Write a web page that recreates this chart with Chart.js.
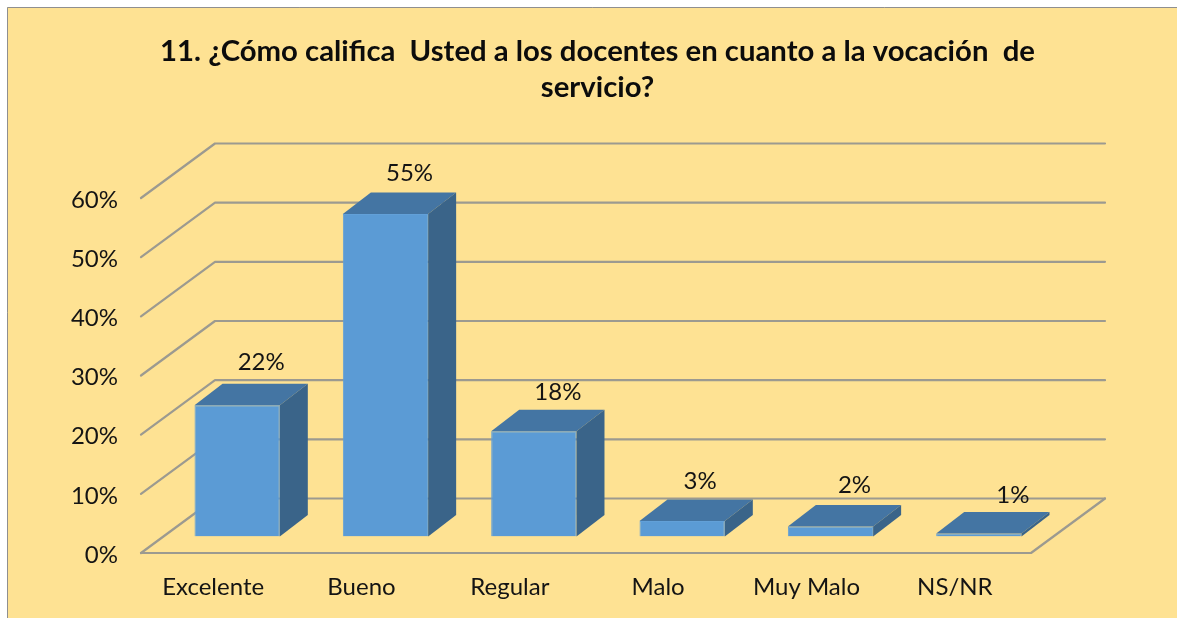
<!DOCTYPE html>
<html><head><meta charset="utf-8">
<style>html,body{margin:0;padding:0;background:#fff}#w{width:1177px;height:618px}canvas{display:block}</style>
<script src="https://cdn.jsdelivr.net/npm/chart.js@4/dist/chart.umd.min.js"></script>
</head><body><div id="w"><canvas id="c" width="1177" height="618"></canvas></div>
<script>
const titleLines = ["11. ¿Cómo califica  Usted a los docentes en cuanto a la vocación  de", "servicio?"];
const categories = ["Excelente", "Bueno", "Regular", "Malo", "Muy Malo", "NS/NR"];
const seriesValues = [22.2, 54.5, 17.8, 2.6, 1.7, 0.5];
const dataLabels = ["22%", "55%", "18%", "3%", "2%", "1%"];

const WALL = {dx: 74, dy: -54.5}, BAR_OFF = {dx: 22, dy: -16.5}, BAR_DEPTH = {dx: 28, dy: -21.5};
const GRID = "#9c9a90", FRONT = "#5b9bd5", TOP = "#4475a3", SIDE = "#3a6489", BG = "#fee293", INK = "#141414";

function poly(ctx, pts, fill, stroke, lw) {
  ctx.beginPath(); pts.forEach((p, i) => i ? ctx.lineTo(p[0], p[1]) : ctx.moveTo(p[0], p[1])); 
  if (fill) { ctx.fillStyle = fill; ctx.closePath(); ctx.fill(); }
  if (stroke) { ctx.strokeStyle = stroke; ctx.lineWidth = lw; ctx.stroke(); }
}
const scene = {
  id: "scene",
  beforeDraw(chart) {
    const ctx = chart.ctx;
    ctx.save();
    ctx.fillStyle = "#fff"; ctx.fillRect(0, 0, chart.width, chart.height);
    ctx.fillStyle = BG; ctx.fillRect(7, 7, chart.width - 7, chart.height - 7);
    ctx.strokeStyle = "#8f8f8f"; ctx.lineWidth = 1;
    ctx.beginPath(); ctx.moveTo(7.5, chart.height); ctx.lineTo(7.5, 7.5); ctx.lineTo(chart.width, 7.5); ctx.stroke();
    ctx.restore();
  },
  beforeDatasetsDraw(chart) {
    const ctx = chart.ctx, y = chart.scales.y, a = chart.chartArea;
    ctx.save(); ctx.lineCap = "round"; ctx.lineJoin = "round";
    y.ticks.forEach((t) => {
      const py = y.getPixelForValue(t.value);
      poly(ctx, [[a.left, py], [a.left + WALL.dx, py + WALL.dy], [a.right + WALL.dx, py + WALL.dy]], null, GRID, 2.2);
    });
    const b = y.getPixelForValue(0);
    poly(ctx, [[a.left, b], [a.right, b], [a.right + WALL.dx, b + WALL.dy]], null, GRID, 2.2);
    ctx.restore();
  },
  beforeDatasetDraw(chart) {
    chart.ctx.save(); chart.ctx.translate(BAR_OFF.dx, BAR_OFF.dy);
  },
  afterDatasetDraw(chart, args, opts) {
    const ctx = chart.ctx, D = BAR_DEPTH;
    chart.getDatasetMeta(args.index).data.forEach((bar, i) => {
      const l = bar.x - bar.width / 2, r = bar.x + bar.width / 2, t = bar.y, b = bar.base;
      poly(ctx, [[l, t], [r, t], [r + D.dx, t + D.dy], [l + D.dx, t + D.dy]], TOP);
      poly(ctx, [[r, t], [r + D.dx, t + D.dy], [r + D.dx, b + D.dy], [r, b]], SIDE);
      ctx.fillStyle = INK; ctx.font = "24px Lato"; ctx.textAlign = "center"; ctx.textBaseline = "middle";
      const n = opts.labelNudge[i];
      ctx.fillText(dataLabels[i], bar.x + 24 + n[0], t - 41 + n[1]);
    });
    ctx.restore();
  }
};
new Chart(document.getElementById("c"), {
  type: "bar",
  data: { labels: categories, datasets: [{ data: seriesValues, backgroundColor: FRONT, borderColor: "#62a0d8", borderWidth: 1, barPercentage: 0.575, categoryPercentage: 1 }] },
  options: {
    responsive: false, animation: false,
    layout: { padding: { left: 18, right: 0, top: 0, bottom: 0 } },
    plugins: {
      legend: { display: false }, tooltip: { enabled: false },
      scene: { labelNudge: [[0, -2], [0, 0], [0, 2], [-6, 1], [0, 0], [10, 3]] },
      title: { display: true, text: titleLines, color: "#0c0c0c", font: { family: "Lato", weight: "bold", size: 29.3, lineHeight: 36 / 29.3 }, padding: { top: 34, bottom: 92 } }
    },
    scales: {
      x: {
        grid: { display: false, drawTicks: false }, border: { display: false },
        ticks: { color: INK, font: { family: "Lato", size: 24 }, padding: 20, labelOffset: -2, maxRotation: 0, autoSkip: false },
        afterFit(s) { s.height = 65; }
      },
      y: {
        min: 0, max: 60,
        grid: { display: false, drawTicks: false }, border: { display: false },
        ticks: { stepSize: 10, color: INK, font: { family: "Lato", size: 24 }, padding: 23, labelOffset: 2, callback: v => v + "%" },
        afterFit(s) { s.width = 123; }
      },
      spacer: {
        position: "right", axis: "y", min: 0, max: 60,
        grid: { display: false, drawTicks: false }, border: { display: false },
        ticks: { display: false },
        afterFit(s) { s.width = 146; }
      }
    }
  },
  plugins: [scene]
});
</script></body></html>
